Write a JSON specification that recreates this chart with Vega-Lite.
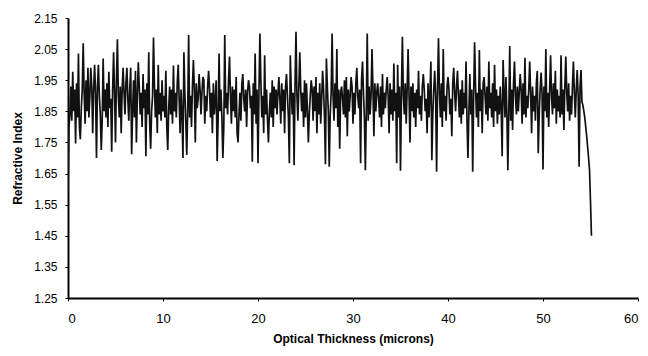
{
"$schema": "https://vega.github.io/schema/vega-lite/v6.json",
"width": 570, "height": 280,
"autosize": "none",
"padding": {"left": 68, "top": 18, "right": 10, "bottom": 58},
"background": "white",
"config": {"view": {"stroke": null}, "axis": {"grid": false, "domainColor": "#000", "tickColor": "#000", "labelColor": "#000", "titleColor": "#000", "labelFont": "Liberation Sans", "titleFont": "Liberation Sans"}},
"data": {"values": [
{"x":0.0,"y":1.59},{"x":0.1,"y":1.80},{"x":0.2,"y":1.84},{"x":0.3,"y":1.93},{"x":0.4,"y":1.82},{"x":0.5,"y":1.977},{"x":0.6,"y":1.85},{"x":0.7,"y":1.92},{"x":0.8,"y":1.747},{"x":0.9,"y":1.94},
{"x":1.0,"y":1.83},{"x":1.1,"y":2.036},{"x":1.2,"y":1.80},{"x":1.3,"y":1.76},{"x":1.4,"y":1.86},{"x":1.5,"y":1.92},{"x":1.6,"y":2.069},{"x":1.7,"y":1.91},{"x":1.8,"y":1.81},{"x":1.9,"y":1.95},
{"x":2.0,"y":1.85},{"x":2.1,"y":1.99},{"x":2.2,"y":1.83},{"x":2.3,"y":1.90},{"x":2.4,"y":1.99},{"x":2.5,"y":1.93},{"x":2.6,"y":1.78},{"x":2.7,"y":1.92},{"x":2.8,"y":2.00},{"x":2.9,"y":1.91},
{"x":3.0,"y":1.70},{"x":3.1,"y":1.93},{"x":3.2,"y":2.00},{"x":3.3,"y":1.90},{"x":3.4,"y":1.84},{"x":3.5,"y":1.726},{"x":3.6,"y":1.82},{"x":3.7,"y":2.02},{"x":3.8,"y":1.85},{"x":3.9,"y":1.92},
{"x":4.0,"y":1.83},{"x":4.1,"y":1.94},{"x":4.2,"y":1.80},{"x":4.3,"y":1.977},{"x":4.4,"y":1.86},{"x":4.5,"y":1.89},{"x":4.6,"y":1.72},{"x":4.7,"y":1.92},{"x":4.8,"y":2.04},{"x":4.9,"y":1.91},
{"x":5.0,"y":1.75},{"x":5.1,"y":1.95},{"x":5.2,"y":2.082},{"x":5.3,"y":1.90},{"x":5.4,"y":1.83},{"x":5.5,"y":1.93},{"x":5.6,"y":1.78},{"x":5.7,"y":1.92},{"x":5.8,"y":1.99},{"x":5.9,"y":1.91},
{"x":6.0,"y":1.84},{"x":6.1,"y":1.94},{"x":6.2,"y":1.99},{"x":6.3,"y":1.89},{"x":6.4,"y":1.82},{"x":6.5,"y":1.92},{"x":6.6,"y":1.99},{"x":6.7,"y":1.712},{"x":6.8,"y":1.85},{"x":6.9,"y":1.95},
{"x":7.0,"y":1.83},{"x":7.1,"y":1.98},{"x":7.2,"y":1.75},{"x":7.3,"y":1.90},{"x":7.4,"y":2.008},{"x":7.5,"y":1.93},{"x":7.6,"y":1.84},{"x":7.7,"y":1.91},{"x":7.8,"y":1.80},{"x":7.9,"y":1.97},
{"x":8.0,"y":1.86},{"x":8.1,"y":1.92},{"x":8.2,"y":1.706},{"x":8.3,"y":1.94},{"x":8.4,"y":1.84},{"x":8.5,"y":2.04},{"x":8.6,"y":1.81},{"x":8.7,"y":1.73},{"x":8.8,"y":1.85},{"x":8.9,"y":1.90},
{"x":9.0,"y":2.087},{"x":9.1,"y":1.93},{"x":9.2,"y":1.83},{"x":9.3,"y":1.92},{"x":9.4,"y":1.78},{"x":9.5,"y":2.00},{"x":9.6,"y":1.84},{"x":9.7,"y":1.91},{"x":9.8,"y":1.82},{"x":9.9,"y":1.95},
{"x":10.0,"y":1.85},{"x":10.1,"y":1.90},{"x":10.2,"y":1.83},{"x":10.3,"y":1.98},{"x":10.4,"y":1.80},{"x":10.5,"y":1.726},{"x":10.6,"y":1.86},{"x":10.7,"y":1.93},{"x":10.8,"y":1.84},{"x":10.9,"y":1.92},
{"x":11.0,"y":1.81},{"x":11.1,"y":1.997},{"x":11.2,"y":1.85},{"x":11.3,"y":1.91},{"x":11.4,"y":1.83},{"x":11.5,"y":1.94},{"x":11.6,"y":2.00},{"x":11.7,"y":1.89},{"x":11.8,"y":1.78},{"x":11.9,"y":1.92},
{"x":12.0,"y":1.84},{"x":12.1,"y":1.70},{"x":12.2,"y":2.04},{"x":12.3,"y":1.91},{"x":12.4,"y":1.82},{"x":12.5,"y":1.71},{"x":12.6,"y":1.85},{"x":12.7,"y":2.095},{"x":12.8,"y":1.83},{"x":12.9,"y":1.90},
{"x":13.0,"y":1.80},{"x":13.1,"y":1.93},{"x":13.2,"y":2.015},{"x":13.3,"y":1.92},{"x":13.4,"y":1.75},{"x":13.5,"y":1.94},{"x":13.6,"y":1.86},{"x":13.7,"y":1.89},{"x":13.8,"y":1.97},{"x":13.9,"y":1.92},
{"x":14.0,"y":1.84},{"x":14.1,"y":1.91},{"x":14.2,"y":1.96},{"x":14.3,"y":1.95},{"x":14.4,"y":1.81},{"x":14.5,"y":1.90},{"x":14.6,"y":1.85},{"x":14.7,"y":1.93},{"x":14.8,"y":1.98},{"x":14.9,"y":1.92},
{"x":15.0,"y":1.83},{"x":15.1,"y":1.91},{"x":15.2,"y":1.78},{"x":15.3,"y":1.94},{"x":15.4,"y":1.84},{"x":15.5,"y":1.89},{"x":15.6,"y":1.95},{"x":15.7,"y":1.69},{"x":15.8,"y":1.82},{"x":15.9,"y":2.036},
{"x":16.0,"y":1.85},{"x":16.1,"y":1.92},{"x":16.2,"y":1.83},{"x":16.3,"y":1.70},{"x":16.4,"y":1.80},{"x":16.5,"y":2.095},{"x":16.6,"y":1.86},{"x":16.7,"y":1.91},{"x":16.8,"y":1.84},{"x":16.9,"y":1.95},
{"x":17.0,"y":2.026},{"x":17.1,"y":1.90},{"x":17.2,"y":1.81},{"x":17.3,"y":1.93},{"x":17.4,"y":1.85},{"x":17.5,"y":1.92},{"x":17.6,"y":1.83},{"x":17.7,"y":1.96},{"x":17.8,"y":1.78},{"x":17.9,"y":1.75},
{"x":18.0,"y":1.84},{"x":18.1,"y":1.91},{"x":18.2,"y":1.82},{"x":18.3,"y":1.94},{"x":18.4,"y":1.97},{"x":18.5,"y":1.89},{"x":18.6,"y":1.85},{"x":18.7,"y":1.92},{"x":18.8,"y":1.80},{"x":18.9,"y":1.91},
{"x":19.0,"y":1.95},{"x":19.1,"y":1.93},{"x":19.2,"y":1.86},{"x":19.3,"y":1.90},{"x":19.4,"y":1.688},{"x":19.5,"y":1.94},{"x":19.6,"y":1.84},{"x":19.7,"y":2.036},{"x":19.8,"y":1.81},{"x":19.9,"y":1.92},
{"x":20.0,"y":1.683},{"x":20.1,"y":1.91},{"x":20.2,"y":2.10},{"x":20.3,"y":1.95},{"x":20.4,"y":1.83},{"x":20.5,"y":1.90},{"x":20.6,"y":1.78},{"x":20.7,"y":2.03},{"x":20.8,"y":1.84},{"x":20.9,"y":1.92},
{"x":21.0,"y":1.82},{"x":21.1,"y":1.75},{"x":21.2,"y":1.85},{"x":21.3,"y":1.91},{"x":21.4,"y":1.83},{"x":21.5,"y":1.95},{"x":21.6,"y":1.80},{"x":21.7,"y":1.93},{"x":21.8,"y":1.86},{"x":21.9,"y":1.92},
{"x":22.0,"y":1.84},{"x":22.1,"y":1.91},{"x":22.2,"y":1.96},{"x":22.3,"y":1.89},{"x":22.4,"y":1.81},{"x":22.5,"y":1.94},{"x":22.6,"y":1.85},{"x":22.7,"y":1.92},{"x":22.8,"y":1.78},{"x":22.9,"y":1.93},
{"x":23.0,"y":1.97},{"x":23.1,"y":1.90},{"x":23.2,"y":1.83},{"x":23.3,"y":1.683},{"x":23.4,"y":2.03},{"x":23.5,"y":1.92},{"x":23.6,"y":1.84},{"x":23.7,"y":1.91},{"x":23.8,"y":1.677},{"x":23.9,"y":1.94},
{"x":24.0,"y":2.106},{"x":24.1,"y":1.90},{"x":24.2,"y":1.82},{"x":24.3,"y":1.93},{"x":24.4,"y":2.04},{"x":24.5,"y":1.92},{"x":24.6,"y":1.85},{"x":24.7,"y":1.91},{"x":24.8,"y":1.80},{"x":24.9,"y":1.95},
{"x":25.0,"y":1.83},{"x":25.1,"y":1.94},{"x":25.2,"y":1.86},{"x":25.3,"y":1.75},{"x":25.4,"y":1.84},{"x":25.5,"y":1.90},{"x":25.6,"y":1.95},{"x":25.7,"y":1.92},{"x":25.8,"y":1.82},{"x":25.9,"y":1.93},
{"x":26.0,"y":1.85},{"x":26.1,"y":1.96},{"x":26.2,"y":1.78},{"x":26.3,"y":1.91},{"x":26.4,"y":1.84},{"x":26.5,"y":1.94},{"x":26.6,"y":1.81},{"x":26.7,"y":1.89},{"x":26.8,"y":1.98},{"x":26.9,"y":1.92},
{"x":27.0,"y":1.83},{"x":27.1,"y":1.68},{"x":27.2,"y":2.02},{"x":27.3,"y":1.93},{"x":27.4,"y":1.85},{"x":27.5,"y":1.672},{"x":27.6,"y":1.84},{"x":27.7,"y":1.91},{"x":27.8,"y":2.10},{"x":27.9,"y":1.90},
{"x":28.0,"y":1.82},{"x":28.1,"y":1.94},{"x":28.2,"y":1.86},{"x":28.3,"y":2.05},{"x":28.4,"y":1.80},{"x":28.5,"y":1.92},{"x":28.6,"y":1.73},{"x":28.7,"y":1.91},{"x":28.8,"y":1.93},{"x":28.9,"y":1.89},
{"x":29.0,"y":1.84},{"x":29.1,"y":1.95},{"x":29.2,"y":1.83},{"x":29.3,"y":1.96},{"x":29.4,"y":1.77},{"x":29.5,"y":1.92},{"x":29.6,"y":1.85},{"x":29.7,"y":1.90},{"x":29.8,"y":1.96},{"x":29.9,"y":1.93},
{"x":30.0,"y":1.81},{"x":30.1,"y":1.91},{"x":30.2,"y":1.84},{"x":30.3,"y":1.94},{"x":30.4,"y":1.99},{"x":30.5,"y":1.90},{"x":30.6,"y":1.86},{"x":30.7,"y":1.92},{"x":30.8,"y":1.683},{"x":30.9,"y":1.95},
{"x":31.0,"y":2.01},{"x":31.1,"y":1.91},{"x":31.2,"y":1.83},{"x":31.3,"y":1.661},{"x":31.4,"y":1.85},{"x":31.5,"y":2.10},{"x":31.6,"y":1.82},{"x":31.7,"y":1.93},{"x":31.8,"y":1.84},{"x":31.9,"y":1.90},
{"x":32.0,"y":2.05},{"x":32.1,"y":1.92},{"x":32.2,"y":1.77},{"x":32.3,"y":1.94},{"x":32.4,"y":1.85},{"x":32.5,"y":1.91},{"x":32.6,"y":1.94},{"x":32.7,"y":1.89},{"x":32.8,"y":1.83},{"x":32.9,"y":1.93},
{"x":33.0,"y":1.80},{"x":33.1,"y":1.97},{"x":33.2,"y":1.84},{"x":33.3,"y":1.91},{"x":33.4,"y":1.86},{"x":33.5,"y":1.92},{"x":33.6,"y":1.96},{"x":33.7,"y":1.90},{"x":33.8,"y":1.78},{"x":33.9,"y":1.94},
{"x":34.0,"y":1.84},{"x":34.1,"y":1.92},{"x":34.2,"y":1.82},{"x":34.3,"y":2.004},{"x":34.4,"y":1.85},{"x":34.5,"y":1.91},{"x":34.6,"y":1.683},{"x":34.7,"y":2.00},{"x":34.8,"y":1.83},{"x":34.9,"y":1.93},
{"x":35.0,"y":1.659},{"x":35.1,"y":1.91},{"x":35.2,"y":2.09},{"x":35.3,"y":1.90},{"x":35.4,"y":1.84},{"x":35.5,"y":1.94},{"x":35.6,"y":1.81},{"x":35.7,"y":1.92},{"x":35.8,"y":2.05},{"x":35.9,"y":1.90},
{"x":36.0,"y":1.75},{"x":36.1,"y":1.93},{"x":36.2,"y":1.85},{"x":36.3,"y":1.94},{"x":36.4,"y":1.83},{"x":36.5,"y":1.91},{"x":36.6,"y":1.80},{"x":36.7,"y":1.92},{"x":36.8,"y":1.86},{"x":36.9,"y":1.98},
{"x":37.0,"y":1.84},{"x":37.1,"y":1.90},{"x":37.2,"y":1.82},{"x":37.3,"y":1.93},{"x":37.4,"y":1.97},{"x":37.5,"y":1.92},{"x":37.6,"y":1.85},{"x":37.7,"y":1.89},{"x":37.8,"y":1.78},{"x":37.9,"y":1.94},
{"x":38.0,"y":1.83},{"x":38.1,"y":1.91},{"x":38.2,"y":2.01},{"x":38.3,"y":1.693},{"x":38.4,"y":1.84},{"x":38.5,"y":1.92},{"x":38.6,"y":1.98},{"x":38.7,"y":1.90},{"x":38.8,"y":1.656},{"x":38.9,"y":1.93},
{"x":39.0,"y":2.085},{"x":39.1,"y":1.91},{"x":39.2,"y":1.83},{"x":39.3,"y":1.94},{"x":39.4,"y":1.80},{"x":39.5,"y":2.05},{"x":39.6,"y":1.85},{"x":39.7,"y":1.90},{"x":39.8,"y":1.82},{"x":39.9,"y":1.93},
{"x":40.0,"y":1.96},{"x":40.1,"y":1.92},{"x":40.2,"y":1.84},{"x":40.3,"y":1.89},{"x":40.4,"y":1.77},{"x":40.5,"y":1.94},{"x":40.6,"y":1.99},{"x":40.7,"y":1.91},{"x":40.8,"y":1.85},{"x":40.9,"y":1.93},
{"x":41.0,"y":1.98},{"x":41.1,"y":1.90},{"x":41.2,"y":1.83},{"x":41.3,"y":1.92},{"x":41.4,"y":1.81},{"x":41.5,"y":1.95},{"x":41.6,"y":1.84},{"x":41.7,"y":1.91},{"x":41.8,"y":1.86},{"x":41.9,"y":2.01},
{"x":42.0,"y":1.82},{"x":42.1,"y":1.70},{"x":42.2,"y":1.85},{"x":42.3,"y":1.97},{"x":42.4,"y":1.84},{"x":42.5,"y":1.92},{"x":42.6,"y":1.656},{"x":42.7,"y":1.90},{"x":42.8,"y":2.072},{"x":42.9,"y":1.93},
{"x":43.0,"y":1.83},{"x":43.1,"y":1.91},{"x":43.2,"y":1.80},{"x":43.3,"y":2.047},{"x":43.4,"y":1.85},{"x":43.5,"y":1.92},{"x":43.6,"y":1.78},{"x":43.7,"y":1.94},{"x":43.8,"y":1.96},{"x":43.9,"y":1.90},
{"x":44.0,"y":1.84},{"x":44.1,"y":1.93},{"x":44.2,"y":1.82},{"x":44.3,"y":2.01},{"x":44.4,"y":1.86},{"x":44.5,"y":1.91},{"x":44.6,"y":1.83},{"x":44.7,"y":1.94},{"x":44.8,"y":1.80},{"x":44.9,"y":2.00},
{"x":45.0,"y":1.85},{"x":45.1,"y":1.92},{"x":45.2,"y":1.81},{"x":45.3,"y":1.90},{"x":45.4,"y":1.84},{"x":45.5,"y":1.93},{"x":45.6,"y":1.86},{"x":45.7,"y":1.706},{"x":45.8,"y":2.015},{"x":45.9,"y":1.91},
{"x":46.0,"y":1.83},{"x":46.1,"y":1.96},{"x":46.2,"y":1.84},{"x":46.3,"y":1.661},{"x":46.4,"y":1.85},{"x":46.5,"y":2.06},{"x":46.6,"y":1.82},{"x":46.7,"y":1.92},{"x":46.8,"y":1.79},{"x":46.9,"y":1.94},
{"x":47.0,"y":2.01},{"x":47.1,"y":1.90},{"x":47.2,"y":1.84},{"x":47.3,"y":1.93},{"x":47.4,"y":1.85},{"x":47.5,"y":1.91},{"x":47.6,"y":1.97},{"x":47.7,"y":1.92},{"x":47.8,"y":1.81},{"x":47.9,"y":1.94},
{"x":48.0,"y":1.84},{"x":48.1,"y":2.022},{"x":48.2,"y":1.83},{"x":48.3,"y":1.90},{"x":48.4,"y":1.86},{"x":48.5,"y":1.92},{"x":48.6,"y":2.01},{"x":48.7,"y":1.91},{"x":48.8,"y":1.78},{"x":48.9,"y":1.93},
{"x":49.0,"y":1.85},{"x":49.1,"y":1.90},{"x":49.2,"y":1.82},{"x":49.3,"y":1.94},{"x":49.4,"y":1.98},{"x":49.5,"y":1.715},{"x":49.6,"y":1.84},{"x":49.7,"y":1.92},{"x":49.8,"y":1.975},{"x":49.9,"y":1.91},
{"x":50.0,"y":1.663},{"x":50.1,"y":1.93},{"x":50.2,"y":1.85},{"x":50.3,"y":2.05},{"x":50.4,"y":1.83},{"x":50.5,"y":1.91},{"x":50.6,"y":1.80},{"x":50.7,"y":1.92},{"x":50.8,"y":2.03},{"x":50.9,"y":1.90},
{"x":51.0,"y":1.84},{"x":51.1,"y":1.94},{"x":51.2,"y":1.86},{"x":51.3,"y":1.98},{"x":51.4,"y":1.81},{"x":51.5,"y":1.92},{"x":51.6,"y":1.85},{"x":51.7,"y":1.90},{"x":51.8,"y":1.83},{"x":51.9,"y":2.03},
{"x":52.0,"y":1.84},{"x":52.1,"y":1.92},{"x":52.2,"y":1.79},{"x":52.3,"y":1.93},{"x":52.4,"y":2.026},{"x":52.5,"y":1.91},{"x":52.6,"y":1.85},{"x":52.7,"y":1.94},{"x":52.8,"y":1.82},{"x":52.9,"y":1.90},
{"x":53.0,"y":1.84},{"x":53.1,"y":1.93},{"x":53.2,"y":2.01},{"x":53.3,"y":1.91},{"x":53.4,"y":1.83},{"x":53.5,"y":1.92},{"x":53.6,"y":1.983},{"x":53.7,"y":1.90},{"x":53.8,"y":1.672},{"x":53.9,"y":1.93},
{"x":54.0,"y":1.983},{"x":54.1,"y":1.88},{"x":54.2,"y":1.87},{"x":54.4,"y":1.83},{"x":54.6,"y":1.77},{"x":54.8,"y":1.70},{"x":54.9,"y":1.66},{"x":55.0,"y":1.56},{"x":55.1,"y":1.45}
]},
"mark": {"type": "line", "color": "#111111", "strokeWidth": 1.7, "clip": true},
"encoding": {
"x": {"field": "x", "type": "quantitative", "scale": {"domain": [0, 60], "nice": false, "zero": false},
 "axis": {"values": [0, 10, 20, 30, 40, 50, 60], "title": "Optical Thickness (microns)", "titleFontSize": 12, "titleFontWeight": "bold", "labelFontSize": 13, "tickSize": 3, "labelPadding": 11, "domainWidth": 2, "titlePadding": 8}},
"y": {"field": "y", "type": "quantitative", "scale": {"domain": [1.25, 2.15], "nice": false, "zero": false},
 "axis": {"values": [1.25, 1.35, 1.45, 1.55, 1.65, 1.75, 1.85, 1.95, 2.05, 2.15], "format": ".2f", "title": "Refractive Index", "titleFontSize": 12, "titleFontWeight": "bold", "labelFontSize": 12, "tickSize": 3, "labelPadding": 8, "domainWidth": 2, "titlePadding": 9}}
}
}
